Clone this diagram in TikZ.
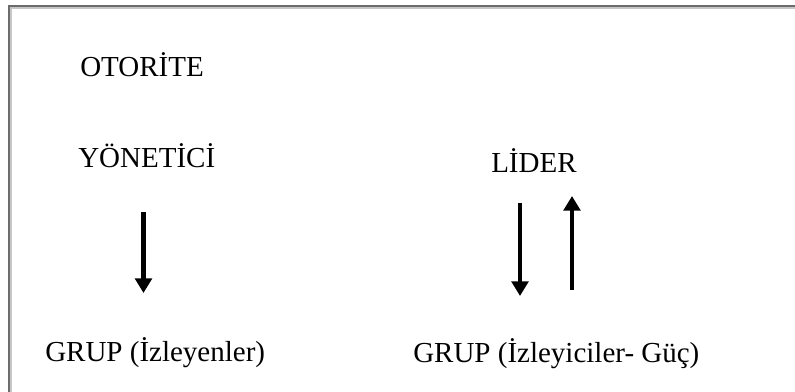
\documentclass[tikz,border=0pt]{standalone}
\usepackage{fontspec}
\setmainfont{Liberation Serif}
\usetikzlibrary{arrows.meta}
\begin{document}
\begin{tikzpicture}[x=0.75pt,y=-0.75pt,
  label/.style={anchor=base west,inner sep=0pt,font=\fontsize{21.75pt}{26pt}\selectfont},
  flow/.style={line width=3.4pt,-{Triangle[length=11pt,width=12.5pt]}}]
\useasboundingbox (0,0) rectangle (795,392);
\fill[white] (0,0) rectangle (795,392);
% frame (only top and left edges fall inside the page)
\draw[line width=1.8pt,gray!85!black] (9,392) -- (9,6) -- (795,6);
\draw[line width=0.8pt,gray!45] (11,392) -- (11,8) -- (795,8);
% labels
\node[label] (oto) at (80,77) {OTORİTE};
\node[label] (yon) at (78,167) {YÖNETİCİ};
\node[label] (lid) at (491,172) {LİDER};
\node[label] (gr1) at (45,361) {GRUP (İzleyenler)};
\node[label] (gr2) at (413,362) {GRUP (İzleyiciler- Güç)};
% arrow end points
\coordinate (a1s) at (143.5,212);
\coordinate (a1e) at (143.5,293);
\coordinate (a2s) at (520,203);
\coordinate (a2e) at (520,296);
\coordinate (a3s) at (572,290);
\coordinate (a3e) at (572,196);
\draw[flow] (a1s) -- (a1e);
\draw[flow] (a2s) -- (a2e);
\draw[flow] (a3s) -- (a3e);
\end{tikzpicture}
\end{document}
